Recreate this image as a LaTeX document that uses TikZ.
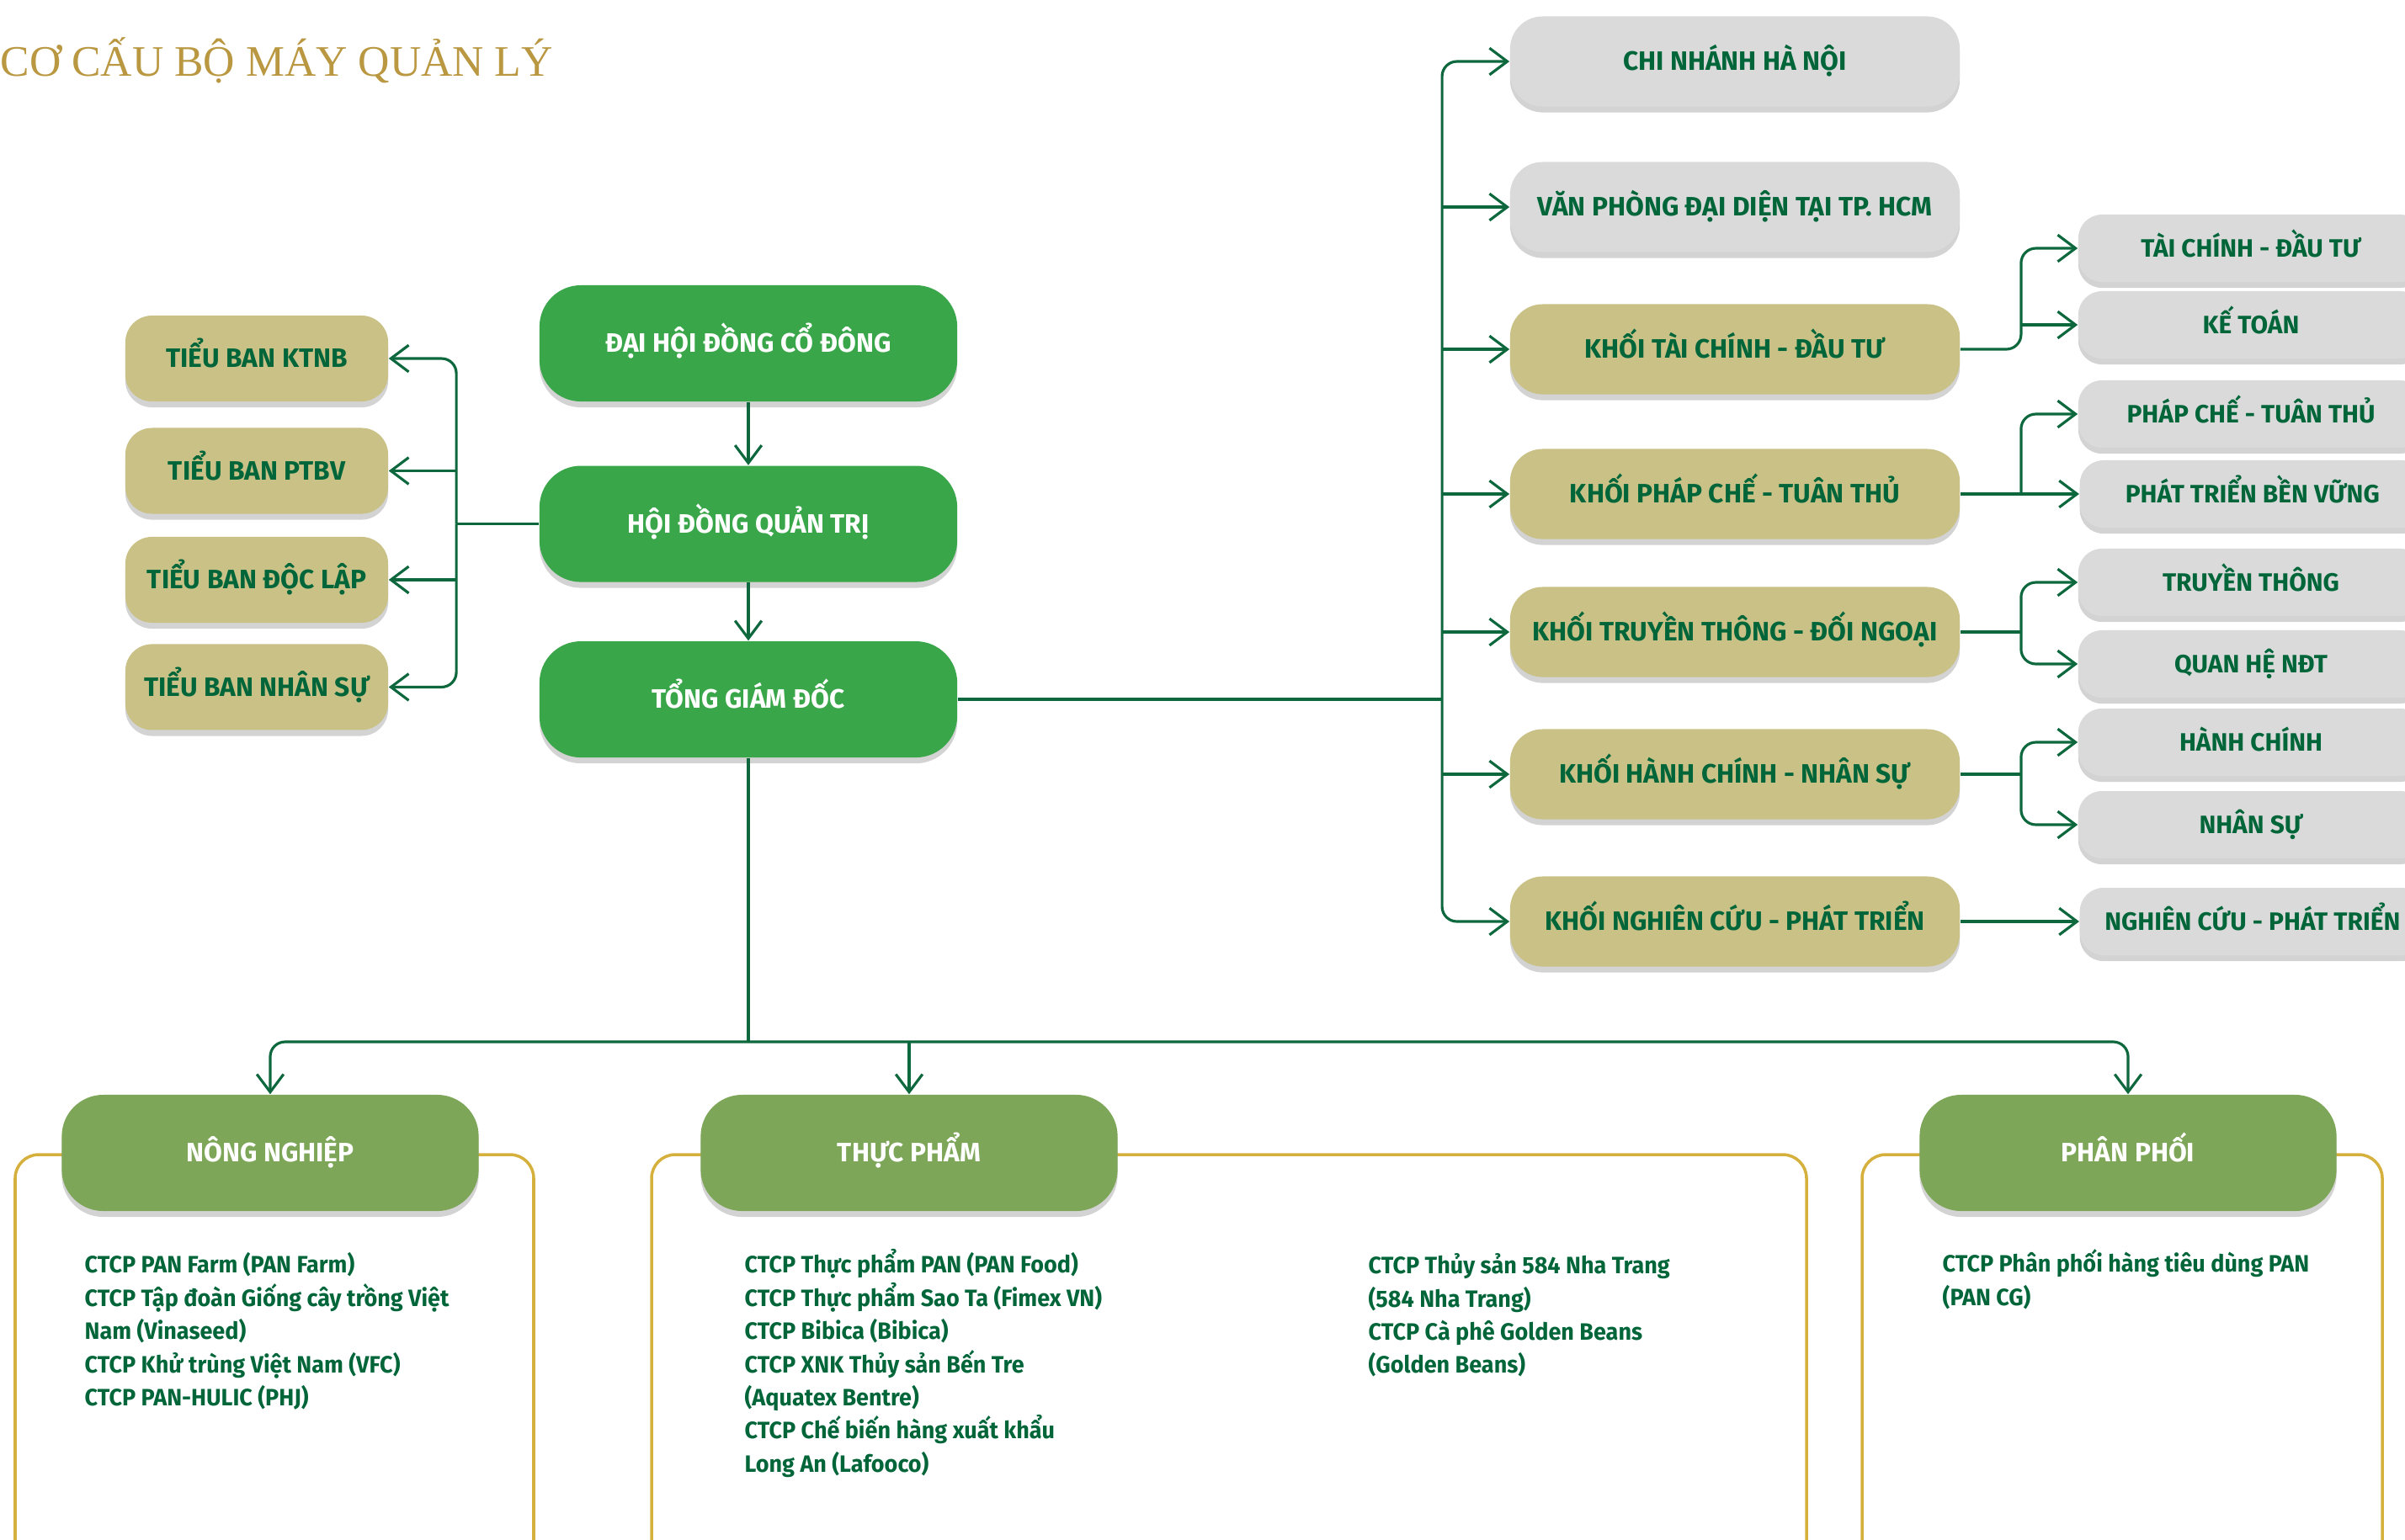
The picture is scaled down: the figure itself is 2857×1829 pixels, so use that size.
\documentclass[tikz,border=0pt]{standalone}
\usepackage{fontspec}
\setmainfont{Fira Sans}
\newfontfamily\titlefont{Liberation Serif}
\newfontfamily\listfont[FakeStretch=0.96]{Fira Sans}
\usepackage{tikz}
\usetikzlibrary{positioning, arrows.meta, shadows}

\definecolor{panGreen}{RGB}{58,166,74}
\definecolor{panLeaf}{RGB}{126,166,88}
\definecolor{panTan}{RGB}{202,193,135}
\definecolor{panGrey}{RGB}{218,218,218}
\definecolor{panLine}{RGB}{14,104,62}
\definecolor{panText}{RGB}{0,102,58}
\definecolor{panGold}{RGB}{214,176,60}
\definecolor{panTitle}{RGB}{186,152,66}

\tikzset{
    blob/.style={rectangle, rounded corners=9pt, align=center, text height=8.5pt, text depth=2.3pt, font=\fontsize{9}{11}\selectfont\bfseries, drop shadow={shadow xshift=0pt, shadow yshift=-2pt, opacity=0.35}},
    lead/.style={blob, fill=panGreen, text=white, minimum width=4.96cm, minimum height=1.38cm, rounded corners=14pt},
    committee/.style={blob, fill=panTan, text=panText, minimum width=3.12cm, minimum height=1.02cm},
    division/.style={blob, fill=panTan, text=panText, minimum width=5.34cm, minimum height=1.07cm, rounded corners=11pt},
    office/.style={division, fill=panGrey},
    subunit/.style={blob, fill=panGrey, text=panText, minimum width=4.1cm, minimum height=0.8cm, rounded corners=8pt, font=\fontsize{8.5}{10}\selectfont\bfseries},
    sector/.style={blob, fill=panLeaf, text=white, minimum width=4.95cm, minimum height=1.38cm, rounded corners=14pt},
    groupframe/.style={draw=panGold, line width=1pt, rounded corners=8pt},
    members/.style={align=left, anchor=north west, inner sep=0pt, text=panText, font=\listfont\fontsize{8}{11.2}\selectfont\bfseries},
    link/.style={draw=panLine, line width=0.9pt, rounded corners=5pt},
    arrow/.style={link, -{Straight Barb[length=6pt, width=9pt]}}
}

\begin{document}
\begin{tikzpicture}[x=0.01cm, y=-0.01cm]
        \useasboundingbox (0,0) rectangle (2857,1829);

        % Title
        \node[anchor=base west, inner sep=0pt, text=panTitle, font=\titlefont\fontsize{14.7}{17}\selectfont] (Title) at (0,90) {CƠ CẤU BỘ MÁY QUẢN LÝ};

        % Frames of the sectors
        \draw[groupframe] (18,1372) rectangle (634,1900);
        \draw[groupframe] (774,1372) rectangle (2146,1900);
        \draw[groupframe] (2212,1372) rectangle (2830,1900);

        % Governance
        \node[lead] (DHCD) at (889,408) {ĐẠI HỘI ĐỒNG CỔ ĐÔNG};
        \node[lead, below=0.75cm of DHCD] (HDQT) {HỘI ĐỒNG QUẢN TRỊ};
        \node[lead, below=0.69cm of HDQT] (TGD) {TỔNG GIÁM ĐỐC};

        % Committees
        \node[committee] (KTNB) at (305,426) {TIỂU BAN KTNB};
        \node[committee, below=0.3cm of KTNB] (PTBV) {TIỂU BAN PTBV};
        \node[committee, below=0.26cm of PTBV] (DocLap) {TIỂU BAN ĐỘC LẬP};
        \node[committee, below=0.24cm of DocLap] (NhanSuTB) {TIỂU BAN NHÂN SỰ};

        % Offices and divisions
        \node[office] (HaNoi) at (2061,73) {CHI NHÁNH HÀ NỘI};
        \node[office] (HCM) at (2061,246) {VĂN PHÒNG ĐẠI DIỆN TẠI TP. HCM};
        \node[division] (KTaiChinh) at (2061,415) {KHỐI TÀI CHÍNH - ĐẦU TƯ};
        \node[division] (KPhapChe) at (2061,587) {KHỐI PHÁP CHẾ - TUÂN THỦ};
        \node[division] (KTruyenThong) at (2061,751) {KHỐI TRUYỀN THÔNG - ĐỐI NGOẠI};
        \node[division] (KHanhChinh) at (2061,920) {KHỐI HÀNH CHÍNH - NHÂN SỰ};
        \node[division] (KNghienCuu) at (2061,1095) {KHỐI NGHIÊN CỨU - PHÁT TRIỂN};

        % Departments
        \node[subunit] (TaiChinh) at (2674,295) {TÀI CHÍNH - ĐẦU TƯ};
        \node[subunit] (KeToan) at (2674,386) {KẾ TOÁN};
        \node[subunit] (PhapChe) at (2674,492) {PHÁP CHẾ - TUÂN THỦ};
        \node[subunit, right=1.41cm of KPhapChe] (PTBVung) {PHÁT TRIỂN BỀN VỮNG};
        \node[subunit] (TruyenThong) at (2674,692) {TRUYỀN THÔNG};
        \node[subunit] (QuanHe) at (2674,789) {QUAN HỆ NĐT};
        \node[subunit] (HanhChinh) at (2674,882) {HÀNH CHÍNH};
        \node[subunit] (NhanSu) at (2674,980) {NHÂN SỰ};
        \node[subunit, right=1.41cm of KNghienCuu] (NCPT) {NGHIÊN CỨU - PHÁT TRIỂN};

        % Sectors
        \node[sector] (NongNghiep) at (321,1370) {NÔNG NGHIỆP};
        \node[sector] (ThucPham) at (1080,1370) {THỰC PHẨM};
        \node[sector] (PhanPhoi) at (2528,1370) {PHÂN PHỐI};

        % Member companies
        \node[members] (NNList) at (100,1488) {CTCP PAN Farm (PAN Farm)\\CTCP Tập đoàn Giống cây trồng Việt\\Nam (Vinaseed)\\CTCP Khử trùng Việt Nam (VFC)\\CTCP PAN-HULIC (PHJ)};
        \node[members] (TPList) at (884,1484) {CTCP Thực phẩm PAN (PAN Food)\\CTCP Thực phẩm Sao Ta (Fimex VN)\\CTCP Bibica (Bibica)\\CTCP XNK Thủy sản Bến Tre\\(Aquatex Bentre)\\CTCP Chế biến hàng xuất khẩu\\Long An (Lafooco)};
        \node[members] (TPList2) at (1625,1489) {CTCP Thủy sản 584 Nha Trang\\(584 Nha Trang)\\CTCP Cà phê Golden Beans\\(Golden Beans)};
        \node[members] (PPList) at (2307,1484) {CTCP Phân phối hàng tiêu dùng PAN\\(PAN CG)};

        % Connections
        \draw[arrow] (DHCD) -- (HDQT);
        \draw[arrow] (HDQT) -- (TGD);

        \coordinate (LeftJ) at ([xshift=-0.98cm]HDQT.west);
        \draw[link] (HDQT.west) -- (LeftJ);
        \draw[arrow] (LeftJ) |- (KTNB.east);
        \draw[arrow] (LeftJ) |- (NhanSuTB.east);
        \draw[arrow] (LeftJ |- PTBV.east) -- (PTBV.east);
        \draw[arrow] (LeftJ |- DocLap.east) -- (DocLap.east);

        \coordinate (TrunkX) at ([xshift=-0.8cm]HaNoi.west);
        \coordinate (RightJ) at (TrunkX |- TGD.east);
        \draw[link] (TGD.east) -- (RightJ);
        \draw[arrow] (RightJ) |- (HaNoi.west);
        \draw[arrow] (RightJ) |- (KNghienCuu.west);
        \foreach \n in {HCM, KTaiChinh, KPhapChe, KTruyenThong, KHanhChinh}
            \draw[arrow] (TrunkX |- \n.west) -- (\n.west);

        \coordinate (BranchX) at ([xshift=0.72cm]KTaiChinh.east);
        \draw[arrow] (KTaiChinh.east) -- (BranchX |- KTaiChinh.east) |- (TaiChinh.west);
        \draw[arrow] (BranchX |- KeToan.west) -- (KeToan.west);
        \draw[arrow] (KPhapChe.east) -- (PTBVung.west);
        \draw[arrow] (BranchX |- KPhapChe.east) |- (PhapChe.west);
        \draw[link] (KTruyenThong.east) -- (BranchX |- KTruyenThong.east);
        \draw[arrow] (BranchX |- KTruyenThong.east) |- (TruyenThong.west);
        \draw[arrow] (BranchX |- KTruyenThong.east) |- (QuanHe.west);
        \draw[link] (KHanhChinh.east) -- (BranchX |- KHanhChinh.east);
        \draw[arrow] (BranchX |- KHanhChinh.east) |- (HanhChinh.west);
        \draw[arrow] (BranchX |- KHanhChinh.east) |- (NhanSu.west);
        \draw[arrow] (KNghienCuu.east) -- (NCPT.west);

        \coordinate (BottomJ) at ([yshift=-3.37cm]TGD.south);
        \draw[link] (TGD.south) -- (BottomJ);
        \draw[arrow] (BottomJ) -| (NongNghiep.north);
        \draw[arrow] (BottomJ) -| (PhanPhoi.north);
        \draw[arrow] (BottomJ -| ThucPham.north) -- (ThucPham.north);

    \end{tikzpicture}
\end{document}
